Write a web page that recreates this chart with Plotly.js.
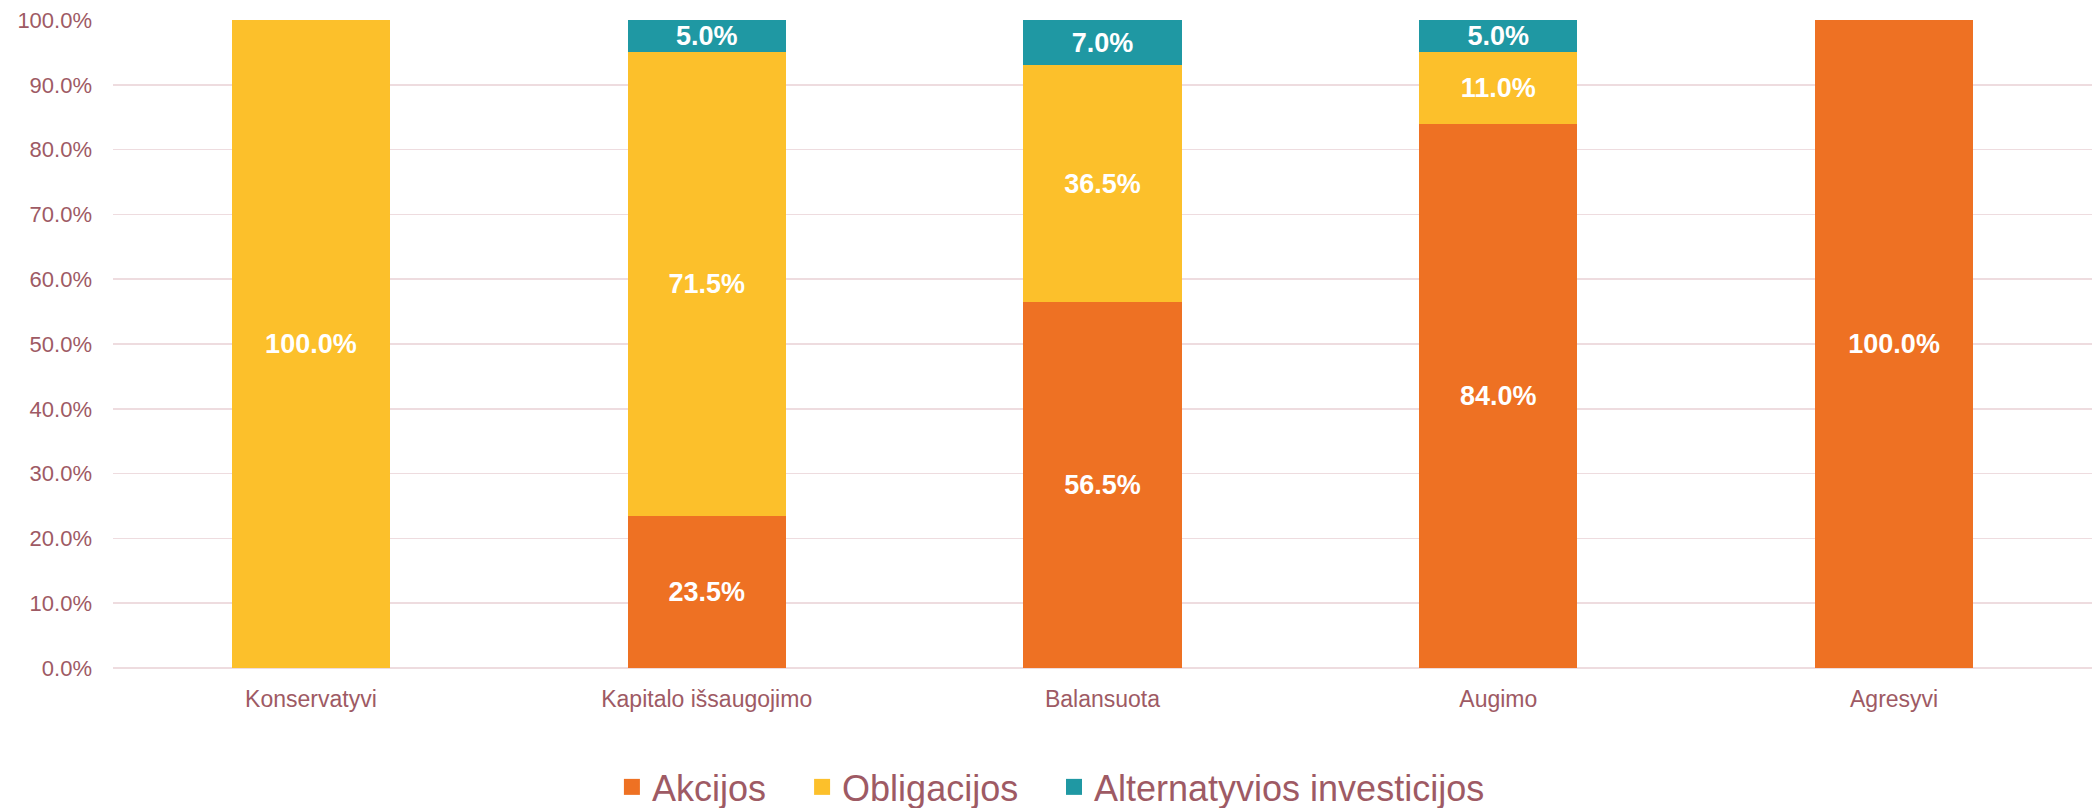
<!DOCTYPE html>
<html>
<head>
<meta charset="utf-8">
<script src="https://cdn.plot.ly/plotly-3.0.1.min.js"></script>
<style>html,body{margin:0;padding:0;background:#fff;}#chart{width:2092px;height:808px;}</style>
</head>
<body>
<div id="chart"></div>
<script>
const categories = ["Konservatyvi", "Kapitalo išsaugojimo", "Balansuota", "Augimo", "Agresyvi"];
const akcijos = [0, 23.5, 56.5, 84.0, 100.0];
const obligacijos = [100.0, 71.5, 36.5, 11.0, 0];
const alternatyvios = [0, 5.0, 7.0, 5.0, 0];
const seriesNames = ["Akcijos", "Obligacijos", "Alternatyvios investicijos"];
const seriesColors = ["#EE7123", "#FCC02B", "#1F98A3"];
const yTicks = [0, 10, 20, 30, 40, 50, 60, 70, 80, 90, 100];

const txtColor = "#9e5a64";
const labels = arr => arr.map(v => v > 0 ? v.toFixed(1) + "%" : "");
const legendIds = ["legend", "legend2", "legend3"];
const legendX = [0.2521, 0.3482, 0.4755];

const barTraces = [akcijos, obligacijos, alternatyvios].map((vals, i) => ({
  type: "bar",
  name: seriesNames[i],
  x: categories,
  y: vals,
  text: labels(vals),
  textposition: "inside",
  insidetextanchor: "middle",
  constraintext: "none",
  textangle: 0,
  textfont: {family: "Liberation Sans, Arial, sans-serif", size: 27, color: "#ffffff", weight: "bold"},
  marker: {color: seriesColors[i], line: {width: 0}},
  showlegend: false,
  hoverinfo: "skip"
}));

// legend entries (square swatches), one legend per series
const legendTraces = seriesNames.map((nm, i) => ({
  type: "scatter",
  mode: "markers",
  name: nm,
  x: [null],
  y: [null],
  marker: {symbol: "square", size: 16, color: seriesColors[i]},
  legend: legendIds[i],
  showlegend: true,
  hoverinfo: "skip"
}));

const legendBase = i => ({
  orientation: "h",
  x: legendX[i], xanchor: "left",
  y: -0.1836, yanchor: "middle",
  bgcolor: "rgba(0,0,0,0)",
  font: {family: "Liberation Sans, Arial, sans-serif", size: 36, color: txtColor},
  itemclick: false
});

const layout = {
  width: 2092,
  height: 808,
  barmode: "stack",
  bargap: 0.6,
  paper_bgcolor: "#ffffff",
  plot_bgcolor: "#ffffff",
  margin: {l: 113, r: 0, t: 20, b: 140, autoexpand: false},
  font: {family: "Liberation Sans, Arial, sans-serif", color: txtColor},
  showlegend: true,
  legend: legendBase(0),
  legend2: legendBase(1),
  legend3: legendBase(2),
  xaxis: {
    type: "category",
    tickfont: {size: 23, color: txtColor},
    showgrid: false,
    showline: false,
    ticks: "",
    ticklabelstandoff: 15,
    automargin: false
  },
  yaxis: {
    range: [0, 100],
    tickvals: yTicks,
    ticktext: yTicks.map(v => v.toFixed(1) + "%"),
    tickfont: {size: 22, color: txtColor},
    showgrid: true,
    gridcolor: "#eedcdf",
    gridwidth: 1.5,
    zeroline: true,
    zerolinecolor: "#eedcdf",
    zerolinewidth: 1.5,
    showline: false,
    ticks: "",
    ticklabelstandoff: 20,
    automargin: false
  }
};

Plotly.newPlot("chart", barTraces.concat(legendTraces), layout, {displayModeBar: false, staticPlot: true});
</script>
</body>
</html>
